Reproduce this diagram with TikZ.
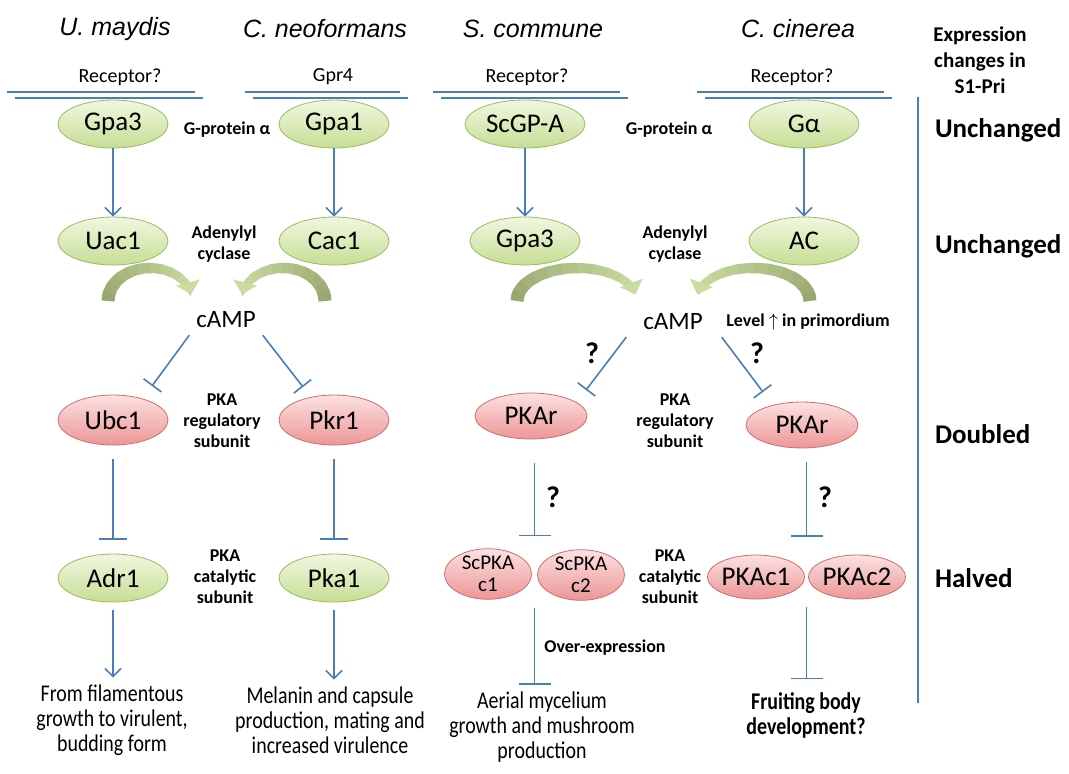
\documentclass[tikz,border=0pt]{standalone}
\usepackage{fontspec}
\setmainfont{Carlito}
\newfontfamily\titlefont{Liberation Sans}
\newfontfamily\narrowfont[FakeStretch=0.83]{Carlito}
\usetikzlibrary{arrows.meta,shapes.geometric,calc}

\definecolor{linkblue}{RGB}{74,126,184}
\definecolor{greenline}{RGB}{155,187,95}
\definecolor{greentop}{RGB}{240,247,225}
\definecolor{greenbot}{RGB}{198,222,148}
\definecolor{redline}{RGB}{205,110,110}
\definecolor{redtop}{RGB}{252,225,225}
\definecolor{redbot}{RGB}{236,150,150}
\definecolor{arcdark}{RGB}{152,168,112}
\definecolor{arclight}{RGB}{202,220,162}

% thick shaded arc: centre x, centre y, x radius, start angle, end angle
\newcommand{\camparc}[5]{%
  \foreach \i in {0,...,9}{
    \pgfmathsetmacro{\aa}{#4+(#5-#4)*\i/10}
    \pgfmathsetmacro{\ab}{#4+(#5-#4)*(\i+1.2)/10}
    \pgfmathtruncatemacro{\mix}{100-10*\i}
    \pgfmathsetmacro{\lw}{6.5-0.25*\i}
    \draw[line width=\lw pt, arcdark!\mix!arclight] ($(#1,#2)+(\aa:#3 and 33)$) arc[start angle=\aa, end angle=\ab, x radius=#3, y radius=33];
  }
  \pgfmathsetmacro{\ac}{#5+(#5-#4)*0.12}
  \draw[line width=4pt, arclight, -{Triangle[length=6pt,width=12pt]}] ($(#1,#2)+(#5:#3 and 33)$) arc[start angle=#5, end angle=\ac, x radius=#3, y radius=33];
}

\tikzset{
  greennode/.style={ellipse, draw=greenline, top color=greentop, bottom color=greenbot, minimum width=55pt, minimum height=24pt, inner sep=0pt, font=\fontsize{13.5}{15}\selectfont},
  rednode/.style={greennode, draw=redline, top color=redtop, bottom color=redbot},
  activate/.style={linkblue, line width=0.8pt, -{Straight Barb[length=4pt,width=8pt]}},
  inhibit/.style={linkblue, line width=0.8pt, -{Bar[width=#1]}},
  inhibit/.default=16pt,
  species/.style={font=\titlefont\itshape\fontsize{12.5}{15}\selectfont},
  receptor/.style={font=\fontsize{10}{12}\selectfont},
  membrane/.style={linkblue, line width=0.6pt},
  role/.style={font=\bfseries\fontsize{9}{10.5}\selectfont, align=center},
  query/.style={font=\bfseries\fontsize{15}{18}\selectfont},
  change/.style={font=\bfseries\fontsize{13.5}{16}\selectfont, anchor=west},
  outcome/.style={font=\narrowfont\fontsize{12}{12.5}\selectfont, align=center},
}

\begin{document}
\begin{tikzpicture}[x=0.5pt,y=-0.5pt]
\useasboundingbox (0,0) rectangle (1069,773);

% species
\node[species] (umay) at (115,29) {U. maydis};
\node[species] (cneo) at (325,29) {C. neoformans};
\node[species] (scom) at (533,29) {S. commune};
\node[species] (ccin) at (798,29) {C. cinerea};

% membranes and receptors
\foreach \xa/\xb in {7/195,245/400,433/620,697/884}{
  \draw[membrane] (\xa,92) -- (\xb,92);
  \draw[membrane] (\xa+8,98) -- (\xb+8,98);
}
\node[receptor] (recA) at (120,77) {Receptor?};
\node[receptor] (recB) at (333,77) {Gpr4};
\node[receptor] (recC) at (527,77) {Receptor?};
\node[receptor] (recD) at (792,77) {Receptor?};

% G-protein alpha
\node[greennode] (gpa3) at (113,124) {Gpa3};
\node[greennode] (gpa1) at (334,124) {Gpa1};
\node[greennode, minimum width=60pt] (scgpa) at (525,124) {ScGP-A};
\node[greennode] (galpha) at (804,124) {Gα};
\node[role] (gprotA) at (227,130) {G-protein α};
\node[role] (gprotB) at (669,130) {G-protein α};

% adenylyl cyclase
\node[greennode] (uac1) at (113,241) {Uac1};
\node[greennode] (cac1) at (334,241) {Cac1};
\node[greennode] (scgpa3) at (525,241) {Gpa3};
\node[greennode] (ac) at (804,241) {AC};
\node[role] (adenA) at (224,244) {Adenylyl\\cyclase};
\node[role] (adenB) at (675,244) {Adenylyl\\cyclase};

\draw[activate] (gpa3) -- (uac1);
\draw[activate] (gpa1) -- (cac1);
\draw[activate] (scgpa) -- (scgpa3);
\draw[activate] (galpha) -- (ac);

\camparc{150}{301}{42}{180}{330}
\camparc{283}{301}{42}{360}{210}
\camparc{577}{301}{60}{180}{330}
\camparc{753}{301}{57}{360}{210}

% cAMP
\node[font=\fontsize{12.5}{15}\selectfont] (campA) at (226,320) {cAMP};
\node[font=\fontsize{12.5}{15}\selectfont] (campB) at (673,322) {cAMP};
\node[role] (level) at (808,322) {Level $\uparrow$ in primordium};

% regulatory subunit
\node[rednode, minimum height=25pt] (ubc1) at (113,420) {Ubc1};
\node[rednode, minimum height=25pt] (pkr1) at (334,420) {Pkr1};
\node[rednode, minimum width=56pt, minimum height=23pt] (pkarC) at (531,416) {PKAr};
\node[rednode, minimum width=56pt, minimum height=23pt] (pkarD) at (802,425) {PKAr};
\node[role] (regA) at (222,421) {PKA\\regulatory\\subunit};
\node[role] (regB) at (675,421) {PKA\\regulatory\\subunit};

\coordinate (barA) at (152,386);
\coordinate (barB) at (303,387);
\coordinate (barC) at (586,390);
\coordinate (barD) at (763,392);
\draw[inhibit=11pt] (campA.south west) -- (barA);
\draw[inhibit=11pt] (campA.south east) -- (barB);
\draw[inhibit=11pt] ([xshift=-5pt]campB.south west) -- (barC);
\draw[inhibit=11pt] ([xshift=6pt]campB.south east) -- (barD);
\node[query] (qC) at (592,353) {?};
\node[query] (qD) at (757,353) {?};

% catalytic subunit
\node[greennode] (adr1) at (113,578) {Adr1};
\node[greennode] (pka1) at (334,578) {Pka1};
\node[rednode, minimum width=43.5pt, minimum height=25pt, align=center, font=\fontsize{10.5}{11}\selectfont] (scc1) at (488,574) {ScPKA\\c1};
\node[rednode, minimum width=43.5pt, minimum height=25pt, align=center, font=\fontsize{10.5}{11}\selectfont] (scc2) at (581,575) {ScPKA\\c2};
\node[rednode, minimum width=46pt, minimum height=22pt] (pkac1) at (756,577) {PKAc1};
\node[rednode, minimum width=46pt, minimum height=22pt] (pkac2) at (857,577) {PKAc2};
\node[role] (catA) at (225,577) {PKA\\catalytic\\subunit};
\node[role] (catB) at (670,577) {PKA\\catalytic\\subunit};

\coordinate (sccmid) at ($(scc1.east)!0.5!(scc2.west)$);
\coordinate (pkcmid) at ($(pkac1.east)!0.5!(pkac2.west)$);
\draw[inhibit=14pt, shorten <=7pt, shorten >=7pt] (ubc1) -- (adr1);
\draw[inhibit=14pt, shorten <=7pt, shorten >=7pt] (pkr1) -- (pka1);
\draw[inhibit, shorten <=12pt, shorten >=6pt] (sccmid |- pkarC.south) -- (sccmid |- scc1.north);
\draw[inhibit, shorten <=7pt, shorten >=9pt] (pkcmid |- pkarD.south) -- (pkcmid |- pkac1.north);
\node[query] (qE) at (553,497) {?};
\node[query] (qF) at (825,497) {?};

% outcomes
\node[outcome] (outA) at (112,720) {From filamentous\\growth to virulent,\\budding form};
\node[outcome] (outB) at (330,720) {Melanin and capsule\\production, mating and\\increased virulence};
\node[outcome] (outC) at (542,727) {Aerial mycelium\\growth and mushroom\\production};
\node[outcome, font=\narrowfont\bfseries\fontsize{12}{12.5}\selectfont] (outD) at (806,715) {Fruiting body\\development?};

\draw[activate, shorten <=4pt] (adr1.south) -- (adr1.south |- outA.north);
\draw[activate, shorten <=4pt] (pka1.south) -- (pka1.south |- outB.north);
\draw[inhibit, shorten <=4pt] (sccmid |- scc1.south) -- (sccmid |- outC.north);
\draw[inhibit, shorten <=4pt, shorten >=3pt] (pkcmid |- pkac1.south) -- (pkcmid |- outD.north);
\node[role] (overexp) at (605,648) {Over-expression};

% expression changes
\node[role, font=\bfseries\fontsize{10.5}{13}\selectfont] (exphead) at (980,60) {Expression\\changes in\\S1-Pri};
\draw[linkblue, line width=0.8pt] (918,97) -- (918,703);
\node[change] (chG) at (928,130) {Unchanged};
\node[change] (chAC) at (928,246) {Unchanged};
\node[change] (chR) at (928,434) {Doubled};
\node[change] (chC) at (928,578) {Halved};
\end{tikzpicture}
\end{document}
